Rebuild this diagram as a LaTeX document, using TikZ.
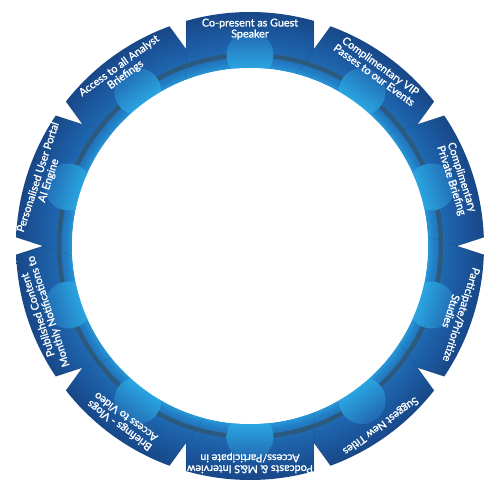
\documentclass[tikz,border=0pt]{standalone}
\usepackage{fontspec}
\setmainfont{Lato}
\newfontfamily\tabfont{Lato}[FakeBold=1.4]
\usepackage{tikz}

\definecolor{ringcyan}{HTML}{2898D8}
\definecolor{ringlow}{HTML}{2382C8}
\definecolor{ringmid}{HTML}{2172BA}
\definecolor{ringupper}{HTML}{1E66AE}
\definecolor{tabblue}{HTML}{1C5AA1}
\definecolor{tabdark}{HTML}{184787}
\definecolor{ringline}{HTML}{2C5A7E}
\definecolor{bubbletop}{HTML}{2268B0}
\definecolor{bubblelow}{HTML}{2CB6EE}

% path box maps to +-25bp of the shading
\pgfdeclareradialshading{tabshade}{\pgfpoint{0bp}{0bp}}{color(0bp)=(ringcyan); color(19bp)=(ringcyan); color(19.55bp)=(ringlow); color(20.2bp)=(ringmid); color(20.9bp)=(ringupper); color(22.4bp)=(tabblue); color(25bp)=(tabdark); color(50bp)=(tabdark)}

\tikzset{
  tablabel/.style={text=white, align=center, inner sep=0pt,
    font=\tabfont\fontsize{10.8}{11}\selectfont},
  bubble/.style={circle, minimum size=47bp, inner sep=0pt,
    top color=bubbletop, bottom color=bubblelow},
  tabedge/.style={draw=black, draw opacity=0.12, line width=0.6bp},
}

\begin{document}
\begin{tikzpicture}[x=1bp,y=1bp]
 \useasboundingbox (-250,-245) rectangle (250,246);
 \coordinate (c) at (0,0);
 % tabs, clockwise from the upper left
 \foreach \a in {126,90,54,18,-18,-54,-90,-126,-162,-198} {
   \begin{scope}
     \clip (\a+21.07:178) -- (\a+15.87:234)
       arc[start angle=\a+15.87, end angle=\a-15.87, radius=234]
       -- (\a-21.07:178)
       arc[start angle=\a-21.07, end angle=\a+21.07, radius=178] -- cycle;
     \shade[shading=tabshade] (c) circle (234);
   \end{scope}
   \draw[tabedge] (\a+21.07:178) -- (\a+15.87:234);
   \draw[tabedge] (\a-21.07:178) -- (\a-15.87:234);
 }
 % dark line round the ring
 \draw[ringline, line width=4.5bp] (c) circle (191);
 % bubbles
 \foreach \a [count=\i, evaluate=\a as \sa using \a-90] in {90,54,18,-18,-54,-90,-126,-162,-198,-234}
   \node[bubble, shading angle=\sa] (bubble\i) at (\a:191) {};
 \fill[white] (c) circle (178);
 % labels
 \node[tablabel, rotate=0] (guest) at (90:217) {Co-present as Guest\\Speaker};
 \node[tablabel, rotate=-36] (vip) at (54:217) {Complimentary VIP\\Passes to our Events};
 \node[tablabel, rotate=-72] (private) at (18:217) {Complimentary\\Private Briefing};
 \node[tablabel, rotate=-108] (studies) at (-18:217) {Participate/Prioritize\\Studies};
 \node[tablabel, rotate=-144] (titles) at (-54:222) {Suggest New Titles};
 \node[tablabel, rotate=-180] (podcasts) at (-90:217) {Podcasts \& M\&S Interview\\Access/Participate in};
 \node[tablabel, rotate=-216] (video) at (-126:217) {Briefings - Vlogs\\Access to Video};
 \node[tablabel, rotate=-252] (content) at (-162:217) {Published Content\\Monthly Notifications to};
 \node[tablabel, rotate=72] (portal) at (162:217) {Personalised User Portal\\AI Engine};
 \node[tablabel, rotate=36] (analyst) at (126:217) {Access to all Analyst\\Briefings};
\end{tikzpicture}
\end{document}
